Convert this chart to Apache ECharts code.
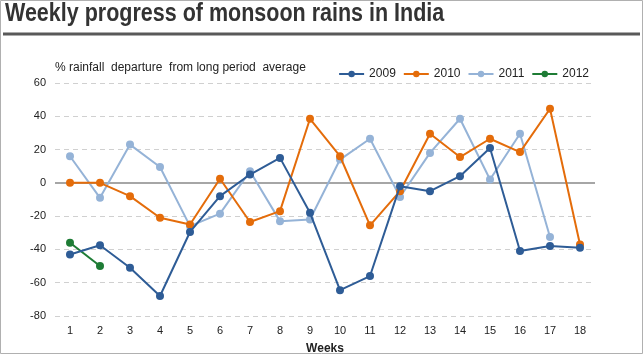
<!DOCTYPE html>
<html>
<head>
<meta charset="utf-8">
<script src="https://cdn.jsdelivr.net/npm/echarts@6/dist/echarts.min.js"></script>
<style>html,body{margin:0;padding:0;background:#fff;}#c{width:644px;height:355px;}</style>
</head>
<body>
<div id="c"></div>
<script>
const weeks = ['1','2','3','4','5','6','7','8','9','10','11','12','13','14','15','16','17','18'];
const yTicks = [-80, -60, -40, -20, 0, 20, 40, 60];
const s2009 = [-43, -37.5, -51, -68, -29.5, -8, 5, 15, -18, -64.5, -56, -2, -5, 4, 21, -41, -38, -39];
const s2010 = [0, 0, -8, -21, -25, 2.5, -23.5, -17, 38.5, 16, -25.5, -5, 29.5, 15.5, 26.5, 18.5, 44.5, -37];
const s2011 = [16, -9, 23, 9.5, -26, -18.5, 7, -23, -22, 14, 26.5, -8.5, 18, 38.5, 2, 29.5, -32.5, null];
const s2012 = [-36, -50, null, null, null, null, null, null, null, null, null, null, null, null, null, null, null, null];
const seriesNames = ['2009', '2010', '2011', '2012'];
const colors = ['#2E5C96', '#E46C0A', '#95B3D7', '#1E7C35'];

const chart = echarts.init(document.getElementById('c'), null, {renderer: 'canvas'});
const font = 'Liberation Sans, Arial, sans-serif';
const data = [s2009, s2010, s2011, s2012];
const series = seriesNames.map((n, i) => ({
  name: n,
  type: 'line',
  data: data[i],
  symbol: 'circle',
  symbolSize: 8,
  color: colors[i],
  lineStyle: {width: 2, color: colors[i]},
  itemStyle: {color: colors[i]},
  connectNulls: false,
  z: 10 - i,
  markLine: i === 0 ? {
    silent: true,
    symbol: 'none',
    label: {show: false},
    lineStyle: {color: '#a6a6a6', width: 2, type: 'solid'},
    data: [{yAxis: 0}],
    z: 1
  } : undefined
}));

chart.setOption({
  animation: false,
  backgroundColor: '#fff',
  textStyle: {fontFamily: font},
  graphic: [
    {type: 'rect', shape: {x: 0.5, y: 0.5, width: 642, height: 353}, style: {fill: 'none', stroke: '#b0b0b0', lineWidth: 1}, silent: true},
    {type: 'line', shape: {x1: 3, y1: 34, x2: 640, y2: 34}, style: {stroke: '#595959', lineWidth: 3}, silent: true},
    {type: 'text', x: 5, y: 2, scaleX: 0.86, style: {text: 'Weekly progress of monsoon rains in India', fontFamily: 'Liberation Sans, Arial, sans-serif', fontSize: 25, fontWeight: 'bold', fill: '#333'}, silent: true},
    {type: 'text', left: 55, top: 62, style: {text: '% rainfall  departure  from long period  average', fontFamily: font, fontSize: 12, fill: '#222'}, silent: true}
  ],
  legend: {
    data: seriesNames,
    right: 50, top: 63,
    itemWidth: 25, itemHeight: 8, itemGap: 7,
    textStyle: {fontFamily: font, fontSize: 12, color: '#222'}
  },
  grid: {left: 55, right: 49, top: 83, bottom: 39, containLabel: false, outerBoundsMode: 'none'},
  xAxis: {
    type: 'category',
    data: weeks,
    boundaryGap: true,
    name: 'Weeks',
    nameLocation: 'middle',
    nameGap: 27,
    nameTextStyle: {fontFamily: font, fontSize: 12, fontWeight: 'bold', color: '#222'},
    axisLine: {show: false},
    axisTick: {show: false},
    axisLabel: {fontFamily: font, fontSize: 11, color: '#222', margin: 9}
  },
  yAxis: {
    type: 'value',
    min: yTicks[0], max: yTicks[yTicks.length - 1], interval: 20,
    axisLine: {show: false},
    axisTick: {show: false},
    axisLabel: {fontFamily: font, fontSize: 11, color: '#222', margin: 9},
    splitLine: {lineStyle: {type: [5, 4], color: '#d0d0d0', width: 1}}
  },
  series: series
});
</script>
</body>
</html>
